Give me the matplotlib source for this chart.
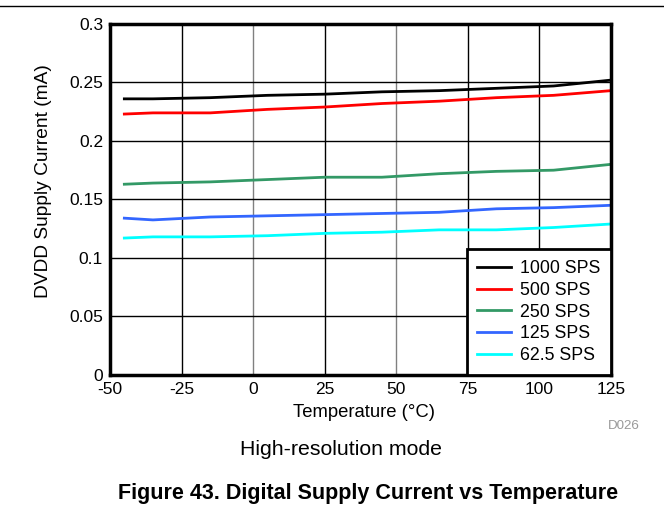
import numpy as np
import matplotlib
matplotlib.use('Agg')
import matplotlib.pyplot as plt

plt.rcParams['font.family'] = ['Liberation Sans', 'DejaVu Sans']
plt.rcParams['axes.unicode_minus'] = False

temp = [-45, -35, -15, 5, 25, 45, 65, 85, 105, 125]
sps_1000 = [0.236, 0.236, 0.237, 0.239, 0.240, 0.242, 0.243, 0.245, 0.247, 0.252]
sps_500 = [0.223, 0.224, 0.224, 0.227, 0.229, 0.232, 0.234, 0.237, 0.239, 0.243]
sps_250 = [0.163, 0.164, 0.165, 0.167, 0.169, 0.169, 0.172, 0.174, 0.175, 0.180]
sps_125 = [0.134, 0.1325, 0.135, 0.136, 0.137, 0.138, 0.139, 0.142, 0.143, 0.145]
sps_62 = [0.117, 0.118, 0.118, 0.119, 0.121, 0.122, 0.124, 0.124, 0.126, 0.129]

series = [
    ('1000 SPS', sps_1000, 'black'),
    ('500 SPS', sps_500, '#ff0000'),
    ('250 SPS', sps_250, '#339966'),
    ('125 SPS', sps_125, '#3366ff'),
    ('62.5 SPS', sps_62, '#00ffff'),
]

fig = plt.figure(figsize=(6.64, 5.08), dpi=100)
ax = fig.add_axes([0.1657, 0.262, 0.7543, 0.6908])

for name, vals, col in series:
    ax.plot(temp, vals, color=col, lw=2, label=name)

ax.set_xlim(-50, 125)
ax.set_ylim(0, 0.3)
ax.set_xticks(np.arange(-50, 126, 25))
ax.set_yticks([0, 0.05, 0.1, 0.15, 0.2, 0.25, 0.3])
ax.set_yticklabels(['0', '0.05', '0.1', '0.15', '0.2', '0.25', '0.3'])
ax.grid(True, color='black', lw=1)
# the 0 and 50 degree grid lines are grey in the original
xgl = ax.get_xgridlines()
xgl[2].set_color('#808080')
xgl[4].set_color('#808080')
ax.tick_params(length=0, labelsize=12.5, pad=5)
for s in ax.spines.values():
    s.set_linewidth(2.5)

ax.set_xlabel('Temperature (\u00b0C)', fontsize=13.3, labelpad=0)
ax.xaxis.set_label_coords(0.508, -0.082)
ax.xaxis.label.set_va('top')
ax.set_ylabel('DVDD Supply Current (mA)', fontsize=13.8)
ax.yaxis.set_label_coords(-0.116, 0.553)

leg = ax.legend(loc='lower right', fontsize=12.8, fancybox=False, framealpha=1,
                edgecolor='black', borderaxespad=0, handlelength=1.9,
                handletextpad=0.5, labelspacing=0.27, borderpad=0.6)
leg.get_frame().set_linewidth(2)

fig.add_artist(plt.Line2D([0, 1], [0.988, 0.988], color='black', lw=1))
fig.text(0.939, 0.155, 'D026', color='#999999', fontsize=9.6, ha='center')
fig.text(0.514, 0.104, 'High-resolution mode', fontsize=15.3, ha='center')
fig.text(0.555, 0.017, 'Figure 43. Digital Supply Current vs Temperature',
         fontsize=15.5, fontweight='bold', ha='center')

fig.savefig('out.png', dpi=100)
